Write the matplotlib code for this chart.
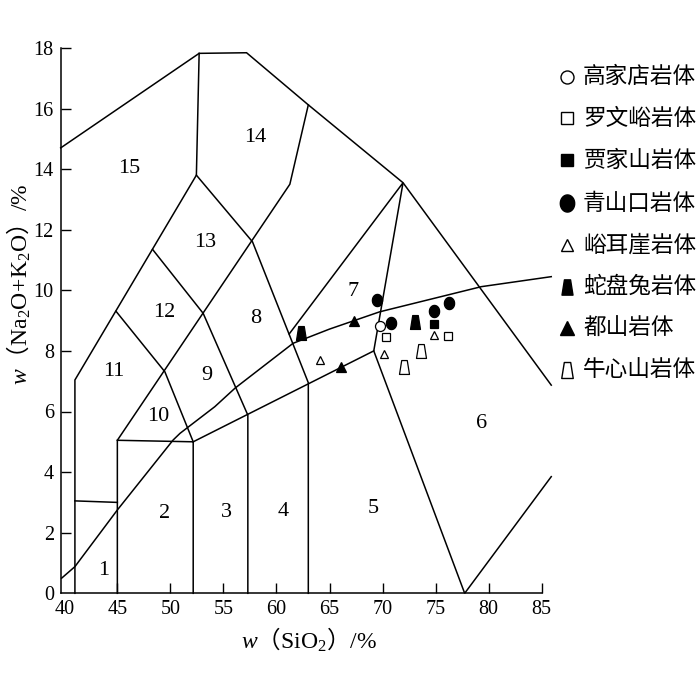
import numpy as np
import matplotlib
matplotlib.use('Agg')
import matplotlib.pyplot as plt
from matplotlib.path import Path

plt.rcParams['font.family'] = ['Liberation Serif', 'Noto Sans CJK SC', 'DejaVu Serif']
plt.rcParams['mathtext.fontset'] = 'custom'
plt.rcParams['mathtext.rm'] = 'Liberation Serif'
plt.rcParams['mathtext.it'] = 'Liberation Serif:italic'

# ---------------- field boundaries (SiO2, Na2O+K2O) ----------------
ib_curve_x = [39.75, 41.0, 45.0, 50.26, 50.91, 54.19, 56.09, 61.56, 65.0, 69.73, 79.31, 85.9]
ib_curve_y = [0.50, 0.88, 2.75, 5.06, 5.28, 6.16, 6.77, 8.25, 8.72, 9.29, 10.12, 10.45]

outer_x = [39.66, 52.71, 57.18, 63.0, 71.93, 85.9]
outer_y = [14.7, 17.82, 17.84, 16.12, 13.55, 6.87]

left_x = [41.0, 41.0, 52.45, 52.71]
left_y = [0.0, 7.04, 13.8, 17.82]

f1_top_x = [41.0, 45.0]
f1_top_y = [3.05, 3.0]

f2_x = [45.0, 45.0, 52.15, 52.15]
f2_y = [0.0, 5.05, 5.0, 0.0]

diag_x = [45.0, 61.26, 63.0]
diag_y = [5.05, 13.5, 16.12]

f11_x = [44.87, 49.48, 52.15]
f11_y = [9.31, 7.31, 5.0]

f12_x = [48.32, 53.09, 57.3, 57.3]
f12_y = [11.35, 9.24, 5.88, 0.0]

f13_x = [52.45, 57.74, 63.0, 63.0]
f13_y = [13.8, 11.6, 6.95, 0.0]

f7_x = [61.2, 71.93, 69.17, 77.74, 85.9]
f7_y = [8.56, 13.55, 8.0, 0.0, 3.85]

f4_top_x = [52.15, 69.17]
f4_top_y = [5.0, 8.0]

boundaries = [(ib_curve_x, ib_curve_y), (outer_x, outer_y), (left_x, left_y),
              (f1_top_x, f1_top_y), (f2_x, f2_y), (diag_x, diag_y), (f11_x, f11_y),
              (f12_x, f12_y), (f13_x, f13_y), (f7_x, f7_y), (f4_top_x, f4_top_y)]

field_labels = ['1', '2', '3', '4', '5', '6', '7', '8', '9', '10', '11', '12', '13', '14', '15']
field_x = [43.71, 49.48, 55.29, 60.62, 69.12, 79.37, 67.22, 58.08, 53.41, 48.85, 44.71, 49.39, 53.32, 57.96, 46.09]
field_y = [0.75, 2.62, 2.66, 2.69, 2.80, 5.61, 9.95, 9.07, 7.20, 5.85, 7.31, 9.27, 11.57, 15.05, 14.03]

# ---------------- samples ----------------
gaojiadian_x = [69.73]
gaojiadian_y = [8.82]
luowenyu_x = [70.36, 76.20]
luowenyu_y = [8.45, 8.50]
jiajiashan_x = [74.82]
jiajiashan_y = [8.88]
qingshankou_x = [69.48, 70.83, 74.85, 76.23]
qingshankou_y = [9.68, 8.93, 9.33, 9.57]
yueryai_x = [64.08, 70.17, 74.82]
yueryai_y = [7.70, 7.90, 8.53]
shepantu_x = [62.29, 73.09]
shepantu_y = [8.60, 8.96]
dushan_x = [67.31, 66.12]
dushan_y = [9.00, 7.46]
niuxinshan_x = [73.59, 71.99]
niuxinshan_y = [8.01, 7.46]

legend_names = ['高家店岩体', '罗文峪岩体', '贾家山岩体', '青山口岩体',
                '峪耳崖岩体', '蛇盘兔岩体', '都山岩体', '牛心山岩体']

xticks = [40, 45, 50, 55, 60, 65, 70, 75, 80, 85]
yticks = [0, 2, 4, 6, 8, 10, 12, 14, 16, 18]

# ---------------- marker shapes ----------------
trap = Path([(-0.2, 0.5), (0.2, 0.5), (0.36, -0.5), (-0.36, -0.5), (-0.2, 0.5)],
            [Path.MOVETO, Path.LINETO, Path.LINETO, Path.LINETO, Path.CLOSEPOLY])
t = np.linspace(0, 2 * np.pi, 60)
ell = Path(np.column_stack([0.42 * np.cos(t), 0.5 * np.sin(t)]))

styles = [
    dict(marker='o', mfc='white', mec='black', ms=7.2),
    dict(marker='s', mfc='white', mec='black', ms=6.2),
    dict(marker='s', mfc='black', mec='black', ms=6.4),
    dict(marker=ell, mfc='black', mec='black', ms=8.8),
    dict(marker='^', mfc='white', mec='black', ms=6.0),
    dict(marker=trap, mfc='black', mec='black', ms=10.0),
    dict(marker='^', mfc='black', mec='black', ms=6.8),
    dict(marker=trap, mfc='white', mec='black', ms=10.0),
]
legend_scale = [1.3, 1.3, 1.3, 1.4, 1.5, 1.1, 1.4, 1.15]
series = [(gaojiadian_x, gaojiadian_y), (luowenyu_x, luowenyu_y),
          (jiajiashan_x, jiajiashan_y), (qingshankou_x, qingshankou_y),
          (yueryai_x, yueryai_y), (shepantu_x, shepantu_y),
          (dushan_x, dushan_y), (niuxinshan_x, niuxinshan_y)]

W, H = 700, 682
fig = plt.figure(figsize=(W / 100, H / 100), dpi=100)
ax = fig.add_axes([60.7 / W, 1 - 593.3 / H, 481.0 / W, 545.4 / H])
ax.set_xlim(39.66, 85)
ax.set_ylim(0, 18)

for bx, by in boundaries:
    ax.plot(bx, by, color='black', lw=1.1, clip_on=False, solid_joinstyle='miter')

for lab, lx, ly in zip(field_labels, field_x, field_y):
    ax.text(lx, ly, lab, fontsize=16, ha='center', va='center', family='Liberation Serif')

for (sx, sy), st in zip(series, styles):
    ax.plot(sx, sy, linestyle='none', mew=0.9, zorder=5, clip_on=False, **st)

for s in ['top', 'right']:
    ax.spines[s].set_visible(False)
for s in ['left', 'bottom']:
    ax.spines[s].set_linewidth(1.1)
ax.set_xticks(xticks)
ax.set_yticks(yticks)
ax.tick_params(direction='in', length=7, width=1.0, labelsize=14.5, pad=5)
ax.xaxis.get_major_ticks()[0].tick1line.set_visible(False)
ax.yaxis.get_major_ticks()[0].tick1line.set_visible(False)

fig.text(309 / W, 1 - 640 / H, r'$\mathit{w}$（$\mathrm{SiO_2}$）$\mathrm{/\%}$',
         fontsize=17, ha='center', va='center', family='Noto Sans CJK SC')
fig.text(19 / W, 1 - 284 / H, r'$\mathit{w}$（$\mathrm{Na_2O\!+\!K_2O}$）$\mathrm{/\%}$',
         fontsize=17, ha='center', va='center', rotation=90, family='Noto Sans CJK SC')

# legend (overlay in pixel coordinates)
lg = fig.add_axes([0, 0, 1, 1], facecolor='none')
lg.set_xlim(0, W)
lg.set_ylim(H, 0)
lg.axis('off')
row_y = [76.7, 118.3, 160, 203.3, 245, 286.7, 328.3, 370]
for name, st, sc, ry in zip(legend_names, styles, legend_scale, row_y):
    st2 = dict(st)
    st2['ms'] = st['ms'] * sc
    lg.plot([566.7], [ry], linestyle='none', mew=1.0, **st2)
    lg.text(583, ry, name, fontsize=16.3, ha='left', va='center', family='Noto Sans CJK SC')

fig.savefig('out.png', dpi=100)
